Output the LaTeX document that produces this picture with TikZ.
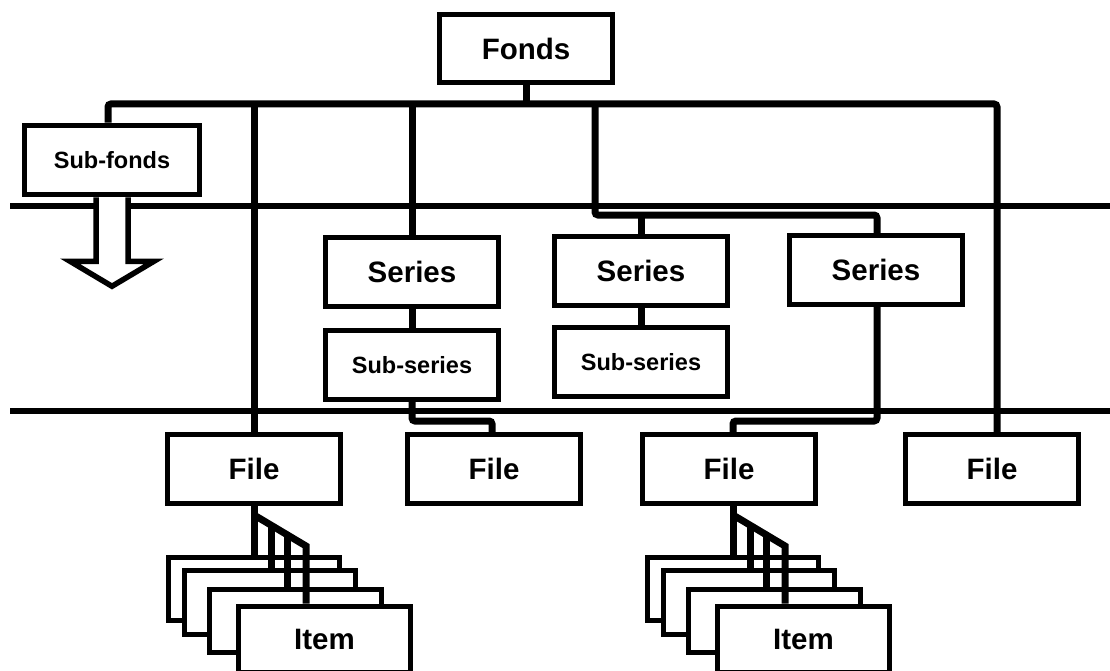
\documentclass[tikz,border=0pt]{standalone}
\usepackage{fontspec}
\setmainfont{Liberation Sans}
\begin{document}
\begin{tikzpicture}[x=1pt,y=-1pt,
  box/.style={draw, line width=5pt, fill=white, inner sep=0pt,
    minimum width=173pt, minimum height=68.5pt,
    font=\bfseries\fontsize{29.5}{32}\selectfont},
  smallbox/.style={box, font=\bfseries\fontsize{23.5}{26}\selectfont},
  itembox/.style={box, minimum width=171.5pt, minimum height=63.5pt},
  conn/.style={line width=7pt, line join=miter},
  rule/.style={line width=6.5pt},
  hollow/.style={line width=5.5pt, fill=white, line join=miter}]
\useasboundingbox (0,0) rectangle (1110,671);

% horizontal level rules
\coordinate (ruleAl) at (10,206);  \coordinate (ruleAr) at (1112,206);
\coordinate (ruleBl) at (10,411);  \coordinate (ruleBr) at (1112,411);
\draw[rule] (ruleAl) -- (ruleAr);
\draw[rule] (ruleBl) -- (ruleBr);

% boxes
\node[box] (fonds) at (526,48.5) {Fonds};
\node[smallbox, minimum width=175pt, minimum height=69.5pt] (subfonds) at (112,160) {Sub-fonds};
\node[box] (series1) at (412,272) {Series};
\node[box] (series2) at (641,271) {Series};
\node[box] (series3) at (876,270) {Series};
\node[smallbox] (subseries1) at (412,365) {Sub-series};
\node[smallbox] (subseries2) at (641,362) {Sub-series};
\node[box] (file1) at (254,469) {File};
\node[box] (file2) at (494,469) {File};
\node[box] (file3) at (729,469) {File};
\node[box] (file4) at (992,469) {File};

% hollow arrow below sub-fonds
\filldraw[hollow] ([xshift=-16pt]subfonds.south) -- ++(0,64) -- ++(-26,0)
  -- ++(42,25) -- ++(42,-25) -- ++(-26,0) -- ++(0,-64);

% top bus
\coordinate (bus) at (526,104);
\coordinate (split) at (595,104);
\coordinate (sbus) at (641,215);
\coordinate (lowbus) at (0,421);
\draw[conn, rounded corners=3pt] ([xshift=-4pt]subfonds.north) |- (bus)
  -| ([xshift=5pt]file4.north);
\draw[conn] (fonds.south) -- (bus);
\draw[conn] (file1.north) -- (file1.north |- bus);
\draw[conn] (series1.north) -- (series1.north |- bus);
\draw[conn, rounded corners=3pt] (split) |- (sbus) -| ([xshift=1pt]series3.north);
\draw[conn] (series2.north) -- (sbus);
\draw[conn] (series1.south) -- (subseries1.north);
\draw[conn] (series2.south) -- (subseries2.north);
\draw[conn, rounded corners=3pt] (subseries1.south) -- (subseries1.south |- lowbus)
  -| ([xshift=-2pt]file2.north);
\draw[conn, rounded corners=3pt] ([xshift=1pt]series3.south) -- ([xshift=1pt]series3.south |- lowbus)
  -| ([xshift=4pt]file3.north);

% item stacks
\newcommand\itemstack[3]{%
  \node[itembox] (#1a) at (#2,589) {};
  \node[itembox] (#1b) at ({#2+16},602.5) {};
  \node[itembox] (#1c) at ({#2+41.5},621) {};
  \node[itembox, minimum height=66pt] (#1d) at ({#2+70.5},639) {Item};
  \coordinate (#1p) at (#2,515);
  \coordinate (#1q) at ({#2+52},546);
  \coordinate (#1u) at ({#2+17},525);
  \coordinate (#1v) at ({#2+33},535);
  \draw[conn] (#1p |- #3.south) -- (#1p |- #1a.north);
  \draw[conn] (#1p) -- (#1q) -- (#1q |- #1d.north);
  \draw[conn] (#1u) -- (#1u |- #1b.north);
  \draw[conn] (#1v) -- (#1v |- #1c.north);
}
\itemstack{sa}{254}{file1}
\itemstack{sb}{733}{file3}
\end{tikzpicture}
\end{document}
